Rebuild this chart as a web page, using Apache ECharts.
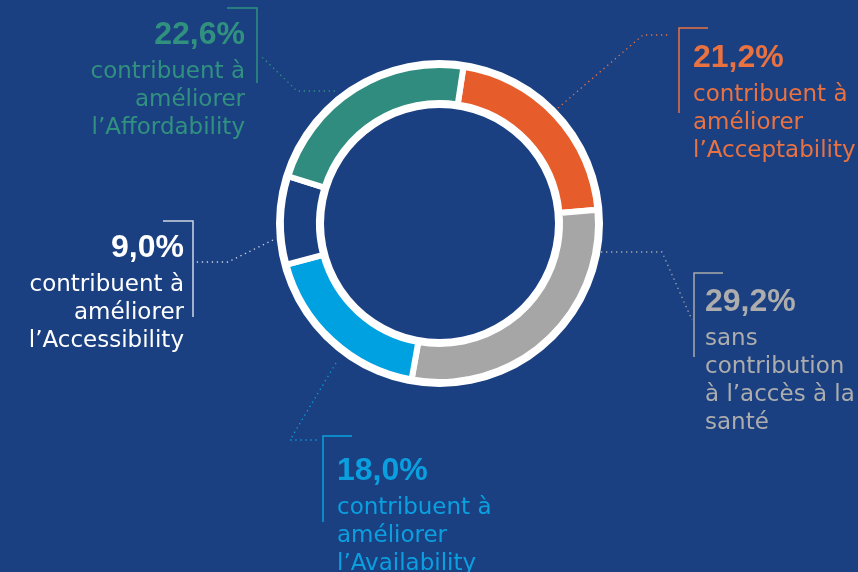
<!DOCTYPE html>
<html>
<head>
<meta charset="utf-8">
<script src="https://cdn.jsdelivr.net/npm/echarts@6/dist/echarts.min.js"></script>
<style>
html,body{margin:0;padding:0;background:#1b4082;}
#c{width:858px;height:572px;}
</style>
</head>
<body>
<div id="c"></div>
<script>
// ---- data ----
const categories = ['Acceptability', 'Sans contribution', 'Availability', 'Accessibility', 'Affordability'];
const values = [21.2, 29.2, 18.0, 9.0, 22.6];
const pctLabels = ['21,2%', '29,2%', '18,0%', '9,0%', '22,6%'];
const captions = [
  ['contribuent à', 'améliorer', 'l’Acceptability'],
  ['sans', 'contribution', 'à l’accès à la', 'santé'],
  ['contribuent à', 'améliorer', 'l’Availability'],
  ['contribuent à', 'améliorer', 'l’Accessibility'],
  ['contribuent à', 'améliorer', 'l’Affordability']
];

// ---- styles / layout ----
const BG = '#1b4082';
const sliceColors = ['#e65c2a', '#a6a6a6', '#00a1e1', BG, '#2f8c7f'];
const textColors = ['#ea7240', '#adadad', '#0aa0e0', '#ffffff', '#31917f'];
const bracketColors = ['#ea7240', '#a9a9a9', '#0aa0e0', '#cfd6e4', '#31917f'];
const labelSide = ['l', 'l', 'l', 'r', 'r'];        // text alignment
const labelPos = [[693, 35], [705, 279], [337, 448], [184, 225], [245, 12]];
const leaderPts = [
  [[558, 108], [643, 35], [670, 35]],
  [[601, 252], [662, 252], [692, 320]],
  [[336, 363], [290, 440], [318, 440]],
  [[273, 240], [228, 262], [195, 262]],
  [[335, 91], [297, 91], [262, 57]]
];
const brackets = [
  [[708, 28], [679, 28], [679, 113]],
  [[723, 273], [694, 273], [694, 357]],
  [[352, 436], [323, 436], [323, 522]],
  [[163, 221], [193, 221], [193, 317]],
  [[227, 8], [257, 8], [257, 83]]
];

const bodyFont = '"DejaVu Sans", sans-serif';
const pctFont = '"Liberation Sans", Arial, sans-serif';

const rich = {};
['l', 'r'].forEach(function (s) {
  textColors.forEach(function (c, i) {
    rich['p' + s + i] = {fontFamily: pctFont, fontWeight: 'bold', fontSize: 32, lineHeight: 46, color: c, align: s === 'l' ? 'left' : 'right'};
    rich['t' + s + i] = {fontFamily: bodyFont, fontSize: 23, lineHeight: 28, color: c, align: s === 'l' ? 'left' : 'right'};
  });
});

const seriesData = categories.map(function (name, i) {
  return {
    name: name,
    value: values[i],
    itemStyle: {color: sliceColors[i]},
    labelLine: {lineStyle: {color: bracketColors[i]}}
  };
});

const CENTER = [439.5, 223.5];

const chart = echarts.init(document.getElementById('c'), null, {renderer: 'canvas'});
chart.setOption({
  backgroundColor: BG,
  animation: false,
  graphic: brackets.map(function (pts, i) {
    return {
      type: 'polyline',
      silent: true,
      shape: {points: pts},
      style: {stroke: bracketColors[i], lineWidth: 1.5, fill: null}
    };
  }),
  series: [{
    // white frame ring behind the slices
    type: 'pie',
    center: CENTER,
    radius: [115.5, 163.5],
    silent: true,
    z: 1,
    label: {show: false},
    labelLine: {show: false},
    itemStyle: {color: '#ffffff'},
    data: [1]
  }, {
    type: 'pie',
    center: CENTER,
    radius: [120.5, 158.5],
    startAngle: 81.3,
    clockwise: true,
    avoidLabelOverlap: false,
    silent: true,
    z: 2,
    itemStyle: {borderColor: '#ffffff', borderWidth: 6},
    label: {
      show: true,
      position: 'outside',
      formatter: function (p) {
        const i = p.dataIndex, s = labelSide[i];
        let str = '{p' + s + i + '|' + pctLabels[i] + '}';
        captions[i].forEach(function (line) {
          str += '\n{t' + s + i + '|' + line + '}';
        });
        return str;
      },
      rich: rich
    },
    labelLine: {show: true, lineStyle: {type: [1.3, 3.7], width: 1.3}},
    labelLayout: function (params) {
      const i = params.dataIndex;
      return {
        x: labelPos[i][0],
        y: labelPos[i][1],
        align: labelSide[i] === 'l' ? 'left' : 'right',
        verticalAlign: 'top',
        labelLinePoints: leaderPts[i]
      };
    },
    data: seriesData
  }]
});
</script>
</body>
</html>
